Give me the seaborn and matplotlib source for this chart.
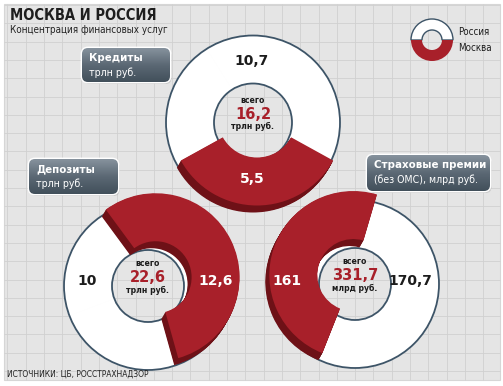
import numpy as np
import matplotlib
matplotlib.use("Agg")
import matplotlib.pyplot as plt
import seaborn as sns
from matplotlib import font_manager
from matplotlib.patches import Circle, FancyBboxPatch, Rectangle
from matplotlib.colors import LinearSegmentedColormap

sns.set_theme(style="white")
plt.rcParams["font.family"] = ["DejaVu Sans"]

W, H = 503, 386

# data
groups = ["Кредиты", "Депозиты", "Страховые премии"]
group_units = ["трлн руб.", "трлн руб.", "(без ОМС), млрд руб."]
moscow = [5.5, 12.6, 161]
russia_rest = [10.7, 10, 170.7]
total_units = ["трлн руб.", "трлн руб.", "млрд руб."]
legend_labels = ["Россия", "Москва"]

title = "МОСКВА И РОССИЯ"
subtitle = "Концентрация финансовых услуг"
source = "ИСТОЧНИКИ: ЦБ, РОССТРАХНАДЗОР"

# layout (pixels, y measured from top)
centers = [(253, 122.5), (148, 286), (355, 284)]
r_out = [87, 84, 84]
r_in = [39, 36, 36]
bisector = [270, 26, 161]
explode = [3, 4, 6]
extrude = (4, 7)
boxes = [(82, 48, 170, 82), (29, 159, 118, 194), (367, 155, 490, 191)]
white_lbl = [(252, 61), (87, 281), (410, 281)]
red_lbl = [(252, 179), (216, 281), (287, 281)]

RED = "#a8202a"
DARK_RED = "#6e1117"
OUTLINE = "#3d5467"
TXT = "#1c1c1c"

# pick a narrow face if one is installed
fonts = font_manager.fontManager.ttflist
NARROW = dict(family=["Roboto", "DejaVu Sans"])
if any(f.name == "DejaVu Sans" and "condensed" in str(f.stretch) for f in fonts):
    NARROW = dict(family=["DejaVu Sans"], stretch="condensed")
elif any(f.name == "Liberation Sans Narrow" for f in fonts):
    NARROW = dict(family=["Liberation Sans Narrow", "DejaVu Sans"])
elif any(f.name == "Roboto Condensed" for f in fonts):
    NARROW = dict(family=["Roboto Condensed", "DejaVu Sans"])


def py(y):
    return H - y


def fmt(v):
    return f"{v:g}".replace(".", ",")


fig = plt.figure(figsize=(W / 100, H / 100), dpi=100, facecolor="white")
ax = fig.add_axes([0, 0, 1, 1])

# panel with grid
ax.add_patch(Rectangle((4, py(380)), 496, 376, fc="#e5e5e5", ec="#d6d6d6", lw=0.8, zorder=0))
gx = np.arange(7.4, 500, 18.3)
gy = np.arange(5, 380, 18.3)
ax.vlines(gx, py(380), py(4), color="#d0d0d0", lw=0.6, zorder=0.5)
ax.hlines(py(gy), 4, 500, color="#d0d0d0", lw=0.6, zorder=0.5)

for i in range(3):
    cx, cy = centers[i][0], py(centers[i][1])
    R, r = r_out[i], r_in[i]
    vals = [moscow[i], russia_rest[i]]
    frac = moscow[i] / sum(vals) * 360
    start = bisector[i] - frac / 2

    # white ring (whole)
    ax.pie(vals, center=(cx, cy), radius=R, colors=["white", "white"],
           wedgeprops=dict(width=R - r, lw=0.8, ec="white"))
    ax.add_patch(Circle((cx, cy), R, fill=False, ec=OUTLINE, lw=1.3))
    ax.add_patch(Circle((cx, cy), r, fill=False, ec=OUTLINE, lw=1.3))

    # Moscow slice, exploded and extruded
    b = np.deg2rad(bisector[i])
    bx = cx + explode[i] * np.cos(b)
    by = cy + explode[i] * np.sin(b)
    for t in np.linspace(0, 1, 12):
        col = RED if t == 1 else DARK_RED
        ax.pie(vals, center=(bx + t * extrude[0], by + t * extrude[1]), radius=R,
               startangle=start, colors=[col, "none"],
               wedgeprops=dict(width=R - r, lw=0))

    # labels
    total = sum(vals)
    tx, ty = centers[i][0], centers[i][1]
    ax.text(tx, py(ty - 22), "всего", ha="center", va="center", fontsize=6.2,
            fontweight="bold", color=TXT, zorder=10, **NARROW)
    ax.text(tx, py(ty - 8), fmt(round(total, 1)), ha="center", va="center", fontsize=10.5,
            fontweight="bold", color=RED, zorder=10)
    ax.text(tx, py(ty + 4), total_units[i], ha="center", va="center", fontsize=6.2,
            fontweight="bold", color=TXT, zorder=10, **NARROW)
    ax.text(white_lbl[i][0], py(white_lbl[i][1]), fmt(russia_rest[i]), ha="center",
            va="center", fontsize=10, fontweight="bold", color=TXT, zorder=10)
    ax.text(red_lbl[i][0], py(red_lbl[i][1]), fmt(moscow[i]), ha="center",
            va="center", fontsize=10, fontweight="bold", color="white", zorder=10)

    # label box
    x0, y0, x1, y1 = boxes[i]
    ax.add_patch(FancyBboxPatch((x0 + 1.5, py(y1) - 2), x1 - x0, y1 - y0,
                                boxstyle="round,pad=0,rounding_size=6",
                                fc="#b5b5b5", ec="none", alpha=0.6, zorder=4))
    box = FancyBboxPatch((x0, py(y1)), x1 - x0, y1 - y0,
                         boxstyle="round,pad=0,rounding_size=6",
                         fc="#56636e", ec="white", lw=2, zorder=5)
    ax.add_patch(box)
    cmap = LinearSegmentedColormap.from_list("g", ["#42505b", "#5b6874", "#86929d"])
    im = ax.imshow(np.linspace(0, 1, 64).reshape(-1, 1), extent=(x0, x1, py(y1), py(y0)),
                   origin="lower", cmap=cmap, aspect="auto", zorder=5.1)
    im.set_clip_path(box)
    ax.text(x0 + 7, py(y0 + 10), groups[i], ha="left", va="center", fontsize=8.2,
            fontweight="bold", color="white", zorder=11, **NARROW)
    ax.text(x0 + 7, py(y0 + 25), group_units[i], ha="left", va="center", fontsize=7.6,
            color="white", zorder=11, **NARROW)

# legend donut
leg = ax.pie([1, 1], center=(432, py(40)), radius=21, colors=["white", RED],
             wedgeprops=dict(width=11, lw=0))[0]
leg[0].set_edgecolor(OUTLINE)
leg[0].set_linewidth(1.0)
ax.text(458, py(32), legend_labels[0], ha="left", va="center", fontsize=7,
        color=TXT, **NARROW)
ax.text(458, py(48), legend_labels[1], ha="left", va="center", fontsize=7,
        color=TXT, **NARROW)

# titles
ax.text(10, py(15), title, ha="left", va="center", fontsize=10.5, fontweight="bold",
        color="#1e1e1e", **NARROW)
ax.text(10, py(30), subtitle, ha="left", va="center", fontsize=7.1,
        color="#222222", **NARROW)
ax.text(7, py(374), source, ha="left", va="center", fontsize=6.0,
        color="#222222", **NARROW)

ax.set_xlim(0, W)
ax.set_ylim(0, H)
ax.set_aspect("auto")
ax.axis("off")

fig.savefig("out.png", dpi=100, facecolor="white")
